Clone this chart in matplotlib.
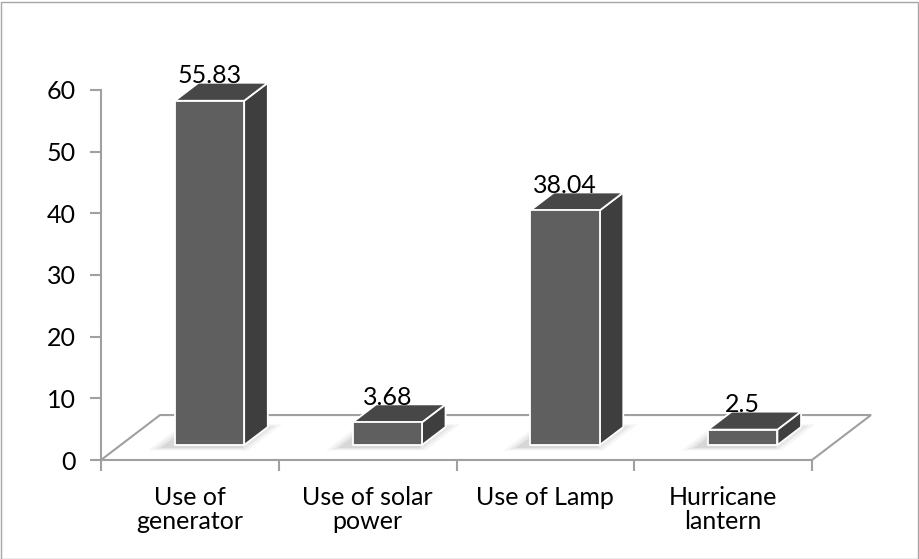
import matplotlib
matplotlib.use("Agg")
import matplotlib.pyplot as plt
from matplotlib.patches import Polygon, Rectangle

# lighting sources used by households
categories = ["Use of\ngenerator", "Use of solar\npower", "Use of Lamp", "Hurricane\nlantern"]
values = [55.83, 3.68, 38.04, 2.5]
value_labels = ["55.83", "3.68", "38.04", "2.5"]
y_ticks = [0, 10, 20, 30, 40, 50, 60]

plt.rcParams['font.family'] = ['Lato', 'DejaVu Sans']

fig = plt.figure(figsize=(9.19, 5.59), dpi=100)
W, H = 919, 559
ax = fig.add_axes([101 / W, 99 / H, 711 / W, 370 / H])
ax.set_xlim(0, 4)
ax.set_ylim(0, 60)

# oblique depth offset for the 3d look (floor back edge)
DX, DY = 0.332, 7.29

def proj(x, y, f):
    return (x + DX * f, y + DY * f)

grey = "#a0a0a0"

# floor of the chart
floor = Polygon([proj(0, 0, 0), proj(4, 0, 0), proj(4, 0, 1), proj(0, 0, 1)],
                closed=True, facecolor="white", edgecolor=grey, lw=1.5,
                clip_on=False, zorder=1)
ax.add_patch(floor)

front_c, side_c, top_c = "#5f5f5f", "#3e3e3e", "#474747"
half_w = 0.195
f0, f1 = 0.333, 0.733

for i, (v, lab) in enumerate(zip(values, value_labels)):
    x0, x1 = i + 0.5 - half_w, i + 0.5 + half_w
    # soft shadow on the floor
    for k, a in enumerate([0.04, 0.05, 0.07]):
        g = 0.06 - k * 0.025
        sh = Polygon([proj(x0 - 0.05 - g, 0, f0 - 0.06 - g), proj(x1 + g, 0, f0 - 0.06 - g),
                      proj(x1 + g, 0, f1 + g), proj(x0 - 0.05 - g, 0, f1 + g)],
                     closed=True, facecolor="black", edgecolor="none", alpha=a,
                     clip_on=False, zorder=2)
        ax.add_patch(sh)
    front = [proj(x0, 0, f0), proj(x1, 0, f0), proj(x1, v, f0), proj(x0, v, f0)]
    side = [proj(x1, 0, f0), proj(x1, 0, f1), proj(x1, v, f1), proj(x1, v, f0)]
    top = [proj(x0, v, f0), proj(x1, v, f0), proj(x1, v, f1), proj(x0, v, f1)]
    for pts, c in [(side, side_c), (top, top_c), (front, front_c)]:
        ax.add_patch(Polygon(pts, closed=True, facecolor=c, edgecolor="white",
                             lw=1.3, joinstyle="round", clip_on=False, zorder=3))
    ax.text(i + 0.5 + DX * f0, v + DY * f1 - 0.1, lab, ha="center", va="baseline",
            fontsize=18, color="black", zorder=4)

for s in ["top", "right", "bottom"]:
    ax.spines[s].set_visible(False)
ax.spines["left"].set_color(grey)
ax.spines["left"].set_linewidth(1.5)

ax.set_yticks(y_ticks)
ax.set_yticklabels([str(t) for t in y_ticks])
ax.tick_params(axis="y", length=8, width=1.5, color=grey, pad=10, labelsize=18)

ax.set_xticks([0, 1, 2, 3, 4])
ax.set_xticklabels([])
ax.tick_params(axis="x", which="major", length=8, width=1.5, color=grey)
ax.set_xticks([0.5, 1.5, 2.5, 3.5], minor=True)
ax.set_xticklabels(categories, minor=True, fontsize=18, linespacing=1.05)
ax.tick_params(axis="x", which="minor", length=0, pad=19)

ax.patch.set_visible(False)

# outer chart border
fig.patches.append(Rectangle((0.5 / W, 0.5 / H), (W - 2) / W, (H - 2) / H,
                             transform=fig.transFigure, fill=False,
                             edgecolor="#a6a6a6", lw=1))

fig.savefig("out.png", dpi=100)
